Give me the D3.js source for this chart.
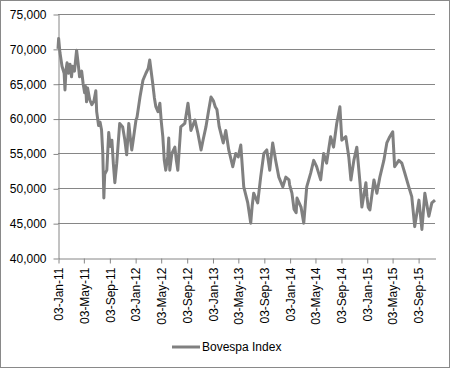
<!DOCTYPE html>
<html>
<head>
<meta charset="utf-8">
<script src="https://cdn.jsdelivr.net/npm/d3@7"></script>
<style>
  body { margin: 0; background: #fff; }
  text { font-family: "Liberation Sans", Arial, sans-serif; }
</style>
</head>
<body>
<script>
var width = 450;
var height = 368;

var margin = { top: 14, left: 58, right: 15, bottom: 110 };

// values
var dates = [
  "2011-01-03","2011-01-06","2011-01-12","2011-01-22","2011-02-01","2011-02-05","2011-02-10","2011-02-15",
  "2011-02-22","2011-03-01","2011-03-08","2011-03-13","2011-03-22","2011-04-01","2011-04-08","2011-04-15",
  "2011-04-25","2011-05-02","2011-05-09","2011-05-14","2011-05-18","2011-05-23","2011-06-02","2011-06-12",
  "2011-06-22","2011-07-01","2011-07-05","2011-07-14","2011-07-21","2011-07-28","2011-08-03","2011-08-08",
  "2011-08-12","2011-08-22","2011-08-31","2011-09-07","2011-09-15","2011-09-22","2011-09-29","2011-10-08",
  "2011-10-15","2011-10-22","2011-11-05","2011-11-15","2011-11-24","2011-12-04","2011-12-12","2011-12-18",
  "2011-12-23","2012-01-07","2012-01-12","2012-01-26","2012-02-09","2012-02-23","2012-03-05","2012-03-12",
  "2012-03-26","2012-04-03","2012-04-10","2012-04-20","2012-04-29","2012-05-06","2012-05-13","2012-05-20",
  "2012-05-27","2012-06-05","2012-06-10","2012-06-15","2012-06-25","2012-07-09","2012-07-16","2012-07-23",
  "2012-08-06","2012-08-25","2012-09-09","2012-09-16","2012-09-23","2012-10-12","2012-10-26","2012-11-10",
  "2012-11-20","2012-12-03","2012-12-15","2012-12-27","2013-01-08","2013-01-16","2013-01-24","2013-02-04",
  "2013-02-23","2013-03-07","2013-03-21","2013-04-09","2013-04-23","2013-05-05","2013-05-17","2013-05-31",
  "2013-06-19","2013-07-03","2013-07-10","2013-07-17","2013-08-05","2013-08-19","2013-09-03","2013-09-17",
  "2013-10-01","2013-10-15","2013-10-29","2013-11-13","2013-12-02","2013-12-16","2013-12-31","2014-01-03",
  "2014-01-14","2014-01-24","2014-02-03","2014-02-07","2014-02-26","2014-03-11","2014-03-25","2014-04-13",
  "2014-04-27","2014-05-11","2014-05-30","2014-06-13","2014-06-27","2014-07-16","2014-07-30","2014-08-14",
  "2014-08-29","2014-09-07","2014-09-26","2014-10-10","2014-10-20","2014-11-03","2014-11-17","2014-12-02",
  "2014-12-11","2014-12-30","2015-01-04","2015-01-10","2015-01-18","2015-02-06","2015-02-20","2015-03-06",
  "2015-03-25","2015-04-08","2015-04-22","2015-05-06","2015-05-15","2015-06-04","2015-06-18","2015-07-02",
  "2015-07-21","2015-08-04","2015-08-18","2015-09-07","2015-09-21","2015-10-05","2015-10-24","2015-11-07",
  "2015-11-22"
];

var values = [
  70000,71500,69500,67500,66500,64100,67000,68000,
  66500,67800,66000,67500,66800,69800,68000,66000,
  66800,65000,63700,64600,62400,64400,62700,62000,
  62500,64000,61000,59000,59500,58400,55000,48600,
  52000,52600,58000,56000,56900,53500,50800,53600,
  56500,59300,58800,57000,54800,59300,57000,55500,
  56500,59800,60200,63100,65500,66500,67200,68400,
  65100,63000,61700,61000,62200,59500,57400,54000,
  52600,54500,57200,52600,55000,55900,54000,52600,
  58800,59300,62200,60500,58300,59800,57900,55500,
  57000,58800,61000,63100,62500,61700,61300,58800,
  56500,58300,55500,53100,55000,54500,56200,50200,
  47900,45000,47500,49300,47900,51600,55000,55500,
  52600,56500,54000,51600,50200,51600,51200,50500,
  49300,47000,46500,48600,47300,45000,50200,52200,
  54000,53100,51200,55000,53600,57400,55900,59300,
  61700,56900,57400,54500,51200,54000,55900,50800,
  47300,50800,48800,47300,46900,51200,49300,51600,
  54000,56500,57400,58100,53100,54000,53600,52200,
  50200,48800,44500,48300,44100,49300,46000,47900,
  48300
];

var yTicks = [40000, 45000, 50000, 55000, 60000, 65000, 70000, 75000];
var xTickDates = [
  "2011-01-03","2011-05-03","2011-09-03","2012-01-03","2012-05-03","2012-09-03","2013-01-03",
  "2013-05-03","2013-09-03","2014-01-03","2014-05-03","2014-09-03","2015-01-03","2015-05-03","2015-09-03"
];
var seriesName = "Bovespa Index";

var parse = d3.timeParse("%Y-%m-%d");
var data = dates.map(function(d, i) { return { date: parse(d), value: values[i] }; });

var svg = d3.select("body")
    .append("svg")
    .attr("width", width)
    .attr("height", height);

// chart border
svg.append("rect")
  .attr("x", 0.5).attr("y", 0.5)
  .attr("width", width - 1).attr("height", height - 1)
  .attr("fill", "#fff")
  .attr("stroke", "#898989");

var xScale = d3.scaleTime()
  .domain(d3.extent(data, function(d) { return d.date; }))
  .range([margin.left, width - margin.right]);

var yScale = d3.scaleLinear()
  .domain([40000, 75000])
  .range([height - margin.bottom, margin.top]);

// gridlines
svg.append("g")
  .selectAll("line")
  .data(yTicks.slice(1))
  .enter()
  .append("line")
    .attr("x1", margin.left)
    .attr("x2", width - margin.right)
    .attr("y1", function(d) { return Math.round(yScale(d)) + 0.5; })
    .attr("y2", function(d) { return Math.round(yScale(d)) + 0.5; })
    .attr("stroke", "#868686");

var yAxis = svg.append("g")
  .attr("transform", "translate(" + (margin.left + 0.5) + ",0.5)")
  .call(d3.axisLeft(yScale).tickValues(yTicks).tickSize(5).tickPadding(7).tickSizeOuter(0)
    .tickFormat(d3.format(",")));

var xAxis = svg.append("g")
  .attr("transform", "translate(0.5," + (height - margin.bottom + 0.5) + ")")
  .call(d3.axisBottom(xScale).tickValues(xTickDates.map(parse)).tickSize(5).tickSizeOuter(0)
    .tickFormat(d3.timeFormat("%d-%b-%y")));

xAxis.selectAll("text")
  .attr("transform", "rotate(-90)")
  .attr("text-anchor", "end")
  .attr("x", -9)
  .attr("y", 0)
  .attr("dy", "0.35em");

svg.selectAll(".domain, .tick line").attr("stroke", "#868686");
svg.selectAll(".tick text").attr("fill", "#000").style("font-size", "12px")
  .style("font-family", "'Liberation Sans', Arial, sans-serif");

var line = d3.line()
  .x(function(d) { return xScale(d.date); })
  .y(function(d) { return yScale(d.value); });

svg.append("path")
  .datum(data)
  .attr("d", line)
  .attr("fill", "none")
  .attr("stroke", "#808080")
  .attr("stroke-width", 3)
  .attr("stroke-linejoin", "round");

// legend
var legend = svg.append("g").attr("transform", "translate(172,347)");
legend.append("line")
  .attr("x1", 0).attr("x2", 28)
  .attr("stroke", "#808080")
  .attr("stroke-width", 3);
legend.append("text")
  .attr("x", 30)
  .attr("dy", "0.35em")
  .style("font-size", "12px")
  .text(seriesName);
</script>
</body>
</html>
